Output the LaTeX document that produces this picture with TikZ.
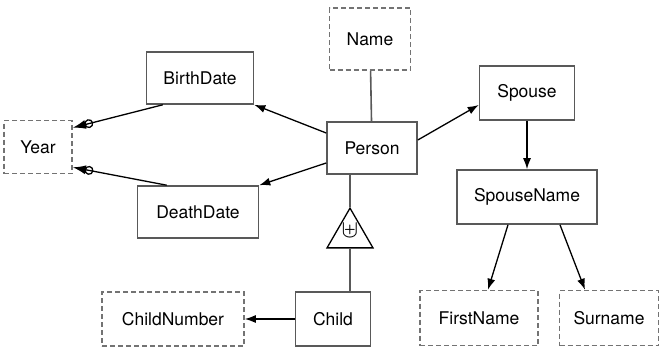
\documentclass[tikz,border=0pt]{standalone}
\usepackage{fontspec}
\setmainfont{TeX Gyre Heros}
\usetikzlibrary{arrows.meta,shapes.geometric}
\tikzset{
  ent/.style={draw=black!65, line width=1.6pt, minimum height=52pt, font=\fontsize{17.5}{20}\selectfont},
  att/.style={ent, dashed, dash pattern=on 5pt off 3pt, draw=black!55},
  link/.style={line width=1.3pt},
  plain/.style={draw=black!65, line width=1.6pt},
  dotarrow/.style={-{Circle[open,length=9pt,line width=1.3pt,sep=-1pt] Latex[length=13pt,width=9pt]}},
}
\begin{document}
\begin{tikzpicture}[x=1pt, y=-1pt, >={Latex[length=11pt,width=8pt]}]
\useasboundingbox (0,0) rectangle (663,348);

\node[att, minimum width=81pt, minimum height=62pt] (Name) at (370, 39) {Name};
\node[ent, minimum width=90pt] (Person) at (372, 148) {Person};
\node[ent, minimum width=107pt] (BirthDate) at (200, 78) {BirthDate};
\node[ent, minimum width=121pt] (DeathDate) at (198, 212) {DeathDate};
\node[att, minimum width=68pt, minimum height=53pt] (Year) at (38, 147) {Year};

\node[ent, minimum width=95pt, minimum height=54pt] (Spouse) at (527, 93) {Spouse};
\node[ent, minimum width=140pt, minimum height=54pt] (SpouseName) at (527, 197) {SpouseName};
\node[att, minimum width=118pt, minimum height=55pt] (FirstName) at (479, 318) {FirstName};
\node[att, minimum width=99pt, minimum height=55pt] (Surname) at (609, 318) {Surname};

\node[draw=black, line width=1.3pt, regular polygon, regular polygon sides=3,
  minimum size=53pt, inner sep=0pt] (isa) at (350, 234.6) {};
\node (uplus) at (350, 231) {\fontsize{24}{26}\selectfont$\uplus$};
\node[ent, minimum width=75pt, minimum height=54pt] (Child) at (333, 319) {Child};
\node[att, minimum width=142pt, minimum height=54pt] (ChildNumber) at (173, 319) {ChildNumber};

\draw[plain] (Name) -- (Person);
\draw[plain] (isa.north) -- (isa.north |- Person.south);
\draw[plain] (isa.south) -- (isa.south |- Child.north);

\path[link, ->] ([yshift=15pt]Person.west) edge (BirthDate.south east);
\path[link, ->] ([yshift=-15pt]Person.west) edge (DeathDate.north east);
\path[link, ->] ([yshift=8pt]Person.east) edge ([yshift=-12pt]Spouse.west);
\path[link, ->] (Spouse) edge (SpouseName);
\path[link, ->] ([xshift=-19pt]SpouseName.south) edge ([xshift=9pt]FirstName.north);
\path[link, ->] ([xshift=33pt]SpouseName.south) edge ([xshift=-24pt]Surname.north);
\path[link, ->] (Child) edge (ChildNumber);

\path[link, dotarrow] ([xshift=17pt]BirthDate.south west) edge ([yshift=-8pt]Year.north east);
\path[link, dotarrow] ([xshift=30pt]DeathDate.north west) edge ([yshift=7pt]Year.south east);
\end{tikzpicture}
\end{document}
